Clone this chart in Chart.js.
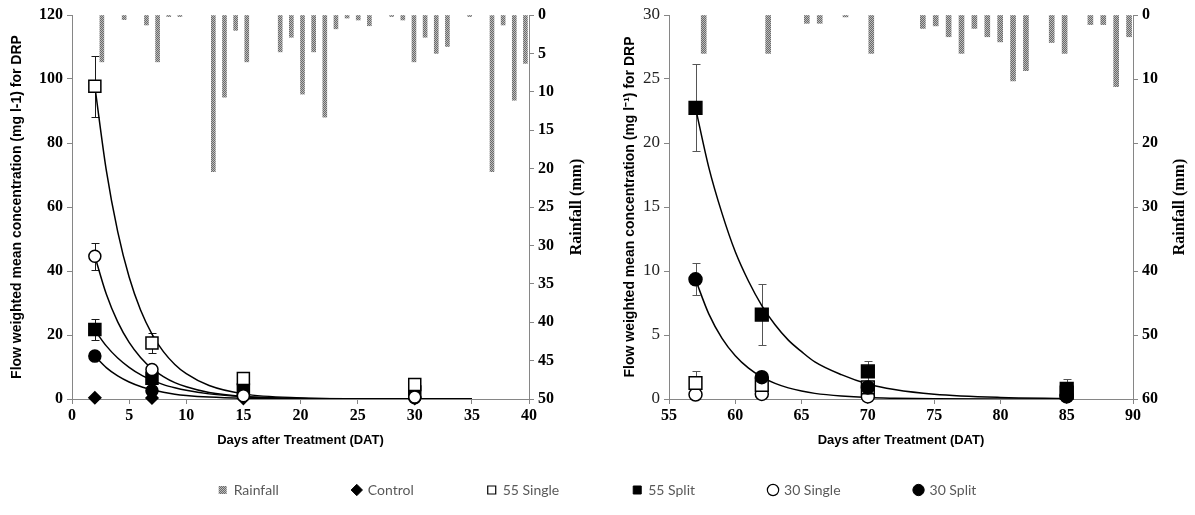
<!DOCTYPE html>
<html>
<head>
<meta charset="utf-8">
<script src="https://cdn.jsdelivr.net/npm/chart.js@4.4.1/dist/chart.umd.min.js"></script>
<style>
  html, body { margin: 0; padding: 0; background: #fff; overflow: hidden; }
  #wrap { position: relative; width: 1195px; height: 515px; overflow: hidden; }
  #wrap canvas { position: absolute; }
  #left { left: 0; top: 0; }
  #right { left: 597px; top: 0; }
  #legend { left: 0; top: 409px; }
</style>
</head>
<body>
<div id="wrap">
  <canvas id="left" width="598" height="460"></canvas>
  <canvas id="right" width="598" height="460"></canvas>
  <canvas id="legend" width="1195" height="220"></canvas>
</div>
<script>
// ---- left panel (0-40 DAT) ----
const daysA = [2, 7, 15, 30];
const controlA = [0.4, 0.3, 0.2, 0.2];
const single55A = [97.7, 17.5, 6.4, 4.5];
const single55ErrA = [9.6, 3.1, 1.5, 0.8];
const split55A = [21.7, 6.5, 2.8, 2.2];
const split55ErrA = [3.4, 1.0, 0.8, 0.6];
const single30A = [44.6, 9.2, 1.0, 0.6];
const single30ErrA = [4.3, 1.0, 0.3, 0.2];
const split30A = [13.4, 2.6, 1.2, 0.4];
const split30ErrA = [0.8, 0.5, 0.3, 0.1];

// fitted decay curves
const curveDaysA = [2, 3, 4, 5, 6, 7, 8, 9, 10, 12, 15, 20, 25, 30, 35];
const fit55SingleA = [97.7, 71.5, 52.3, 38.1, 27.8, 20.3, 14.8, 10.8, 7.9, 4.2, 1.6, 0.34, 0.07, 0.01, 0];
const fit30SingleA = [44.6, 32.8, 24.1, 17.7, 13.0, 9.5, 7.0, 5.1, 3.8, 2.0, 0.8, 0.17, 0.04, 0.01, 0];
const fit55SplitA = [21.5, 16.6, 12.8, 9.9, 7.6, 5.9, 4.5, 3.5, 2.7, 1.6, 0.73, 0.2, 0.05, 0.01, 0];
const fit30SplitA = [13.4, 9.8, 7.2, 5.3, 3.9, 2.9, 2.1, 1.5, 1.1, 0.6, 0.24, 0.05, 0.01, 0, 0];

const rainDaysA = [2, 4, 6, 7, 8, 9, 12, 13, 14, 15, 18, 19, 20, 21, 22, 23, 24, 25, 26, 28, 29, 30, 31, 32, 33, 35, 37, 38, 39, 40];
const rainMmA = [6.1, 0.6, 1.3, 6.1, 0.2, 0.2, 20.4, 10.7, 2.0, 6.1, 4.8, 2.9, 10.3, 4.8, 13.3, 1.8, 0.4, 0.65, 1.4, 0.2, 0.65, 6.1, 2.9, 5.0, 4.1, 0.2, 20.4, 1.3, 11.1, 6.3];

// ---- right panel (55-90 DAT) ----
const daysB = [57, 62, 70, 85];
const single55B = [1.25, 1.1, 0.9, 0.5];
const single55ErrB = [0.95, 0.6, 0.3, 0.2];
const split55B = [22.75, 6.6, 2.15, 0.8];
const split55ErrB = [3.4, 2.4, 0.8, 0.8];
const single30B = [0.35, 0.4, 0.2, 0.25];
const single30ErrB = [0, 0, 0, 0];
const split30B = [9.35, 1.7, 0.9, 0.2];
const split30ErrB = [1.25, 0.3, 0.2, 0.1];

const curveDaysB = [57, 58, 59, 60, 61, 62, 63, 64, 65, 66, 68, 70, 72, 75, 80, 85];
const fit55SplitB = [22.75, 18.1, 14.5, 11.5, 9.2, 7.3, 5.8, 4.6, 3.7, 2.9, 1.9, 1.17, 0.74, 0.37, 0.12, 0.04];
const fit30SplitB = [9.33, 6.65, 4.74, 3.38, 2.41, 1.72, 1.22, 0.87, 0.62, 0.44, 0.23, 0.11, 0.06, 0.02, 0, 0];

const rainDaysB = [57, 62, 65, 66, 68, 70, 74, 75, 76, 77, 78, 79, 80, 81, 82, 84, 85, 87, 88, 89, 90];
const rainMmB = [6.0, 6.0, 1.3, 1.3, 0.3, 6.0, 2.1, 1.7, 3.4, 6.0, 2.1, 3.4, 4.2, 10.3, 8.7, 4.3, 6.0, 1.5, 1.5, 11.2, 3.4];

const legendNames = ['Rainfall', 'Control', '55 Single', '55 Split', '30 Single', '30 Split'];

const SERIF = "'Liberation Serif', 'Times New Roman', serif";
const SANS = "'Liberation Sans', Arial, sans-serif";
const AXIS_GREY = '#868686';

function rainPattern() {
  const c = document.createElement('canvas');
  c.width = 2; c.height = 2;
  const g = c.getContext('2d');
  g.fillStyle = '#bcbcbc';
  g.fillRect(0, 0, 2, 2);
  g.fillStyle = '#6a6a6a';
  g.fillRect(0, 0, 1, 1);
  g.fillRect(1, 1, 1, 1);
  return g.createPattern(c, 'repeat');
}
const rainFill = rainPattern();

function dayLabels(from, to) {
  const out = [];
  for (let d = from; d <= to; d++) out.push(String(d));
  return out;
}

function rainBars(labels, days, mm) {
  return labels.map(l => {
    const i = days.indexOf(Number(l));
    return i < 0 ? null : mm[i];
  });
}

function pts(xs, ys) {
  return xs.map((d, i) => ({ x: d, y: ys[i] }));
}

function markers(label, xs, ys, style, filled, r) {
  return {
    type: 'line', label, data: pts(xs, ys), showLine: false,
    pointStyle: style, pointRadius: r, pointHoverRadius: r,
    pointBackgroundColor: filled ? '#000' : '#fff', pointBorderColor: '#000',
    pointBorderWidth: 1.5, clip: false, order: 0, xAxisID: 'x', yAxisID: 'y'
  };
}

function curve(xs, ys) {
  return {
    type: 'line', label: 'fit', data: pts(xs, ys), borderColor: '#000', borderWidth: 1.5,
    pointRadius: 0, cubicInterpolationMode: 'monotone', fill: false, order: 1,
    xAxisID: 'x', yAxisID: 'y'
  };
}

function errorBars(series, color) {
  return {
    id: 'errorBars',
    beforeDatasetsDraw(chart) {
      const { ctx, scales: { x, y } } = chart;
      ctx.save();
      ctx.strokeStyle = color;
      ctx.lineWidth = 1;
      series.forEach(s => {
        s.y.forEach((v, i) => {
          const e = s.err[i];
          if (!e) return;
          const px = Math.round(x.getPixelForValue(s.x[i])) + 0.5;
          const top = Math.round(y.getPixelForValue(v + e)) + 0.5;
          const bot = Math.round(y.getPixelForValue(Math.max(v - e, 0))) + 0.5;
          ctx.beginPath();
          ctx.moveTo(px, top); ctx.lineTo(px, bot);
          ctx.moveTo(px - 4, top); ctx.lineTo(px + 4, top);
          ctx.moveTo(px - 4, bot); ctx.lineTo(px + 4, bot);
          ctx.stroke();
        });
      });
      ctx.restore();
    }
  };
}

// right axis title reads bottom-to-top like the left one
const rainTitle = {
  id: 'rainTitle',
  afterDraw(chart, args, opts) {
    const s = chart.scales.yr;
    const ctx = chart.ctx;
    ctx.save();
    ctx.translate(s.right - opts.offset, (s.top + s.bottom) / 2);
    ctx.rotate(-Math.PI / 2);
    ctx.textAlign = 'center';
    ctx.textBaseline = 'middle';
    ctx.fillStyle = '#000';
    ctx.font = 'bold 16px ' + SERIF;
    ctx.fillText(opts.text, 0, 0);
    ctx.restore();
  }
};

function axisGrid() {
  return { display: true, drawOnChartArea: false, drawTicks: true, tickLength: 5, color: AXIS_GREY };
}

function makePanel(canvasId, cfg) {
  const labels = dayLabels(cfg.xMin, cfg.xMax);
  return new Chart(document.getElementById(canvasId), {
    type: 'line',
    data: {
      datasets: [
        ...cfg.markerSets,
        ...cfg.curves,
        {
          type: 'bar', label: 'Rainfall', data: rainBars(labels, cfg.rainDays, cfg.rainMm),
          backgroundColor: rainFill, borderWidth: 0, barThickness: cfg.barW,
          xAxisID: 'xr', yAxisID: 'yr', order: 2
        }
      ]
    },
    options: {
      responsive: false,
      animation: false,
      layout: { padding: { top: 15, left: 0, right: 0, bottom: 0 } },
      plugins: {
        legend: { display: false },
        tooltip: { enabled: false },
        rainTitle: { text: 'Rainfall (mm)', offset: cfg.rainTitleOffset }
      },
      scales: {
        x: {
          type: 'linear', position: 'bottom', min: cfg.xMin, max: cfg.xMax,
          grid: axisGrid(), border: { color: AXIS_GREY },
          ticks: { stepSize: 5, autoSkip: false, maxRotation: 0, padding: 2, color: '#000',
                   font: { family: SERIF, size: 16, weight: 'bold' } },
          title: { display: true, text: 'Days after Treatment (DAT)', color: '#000',
                   font: { family: SANS, size: 13, weight: 'bold' }, padding: { top: 4, bottom: 12.2 } },
          afterFit: s => { s.height = 61; }
        },
        xr: { type: 'category', labels, offset: true, display: false, position: 'bottom' },
        y: {
          type: 'linear', position: 'left', min: 0, max: cfg.yMax,
          grid: axisGrid(), border: { color: AXIS_GREY },
          ticks: { stepSize: cfg.yStep, padding: 4, color: cfg.yTickColor,
                   font: { family: SERIF, size: cfg.yTickSize, weight: cfg.yTickWeight } },
          title: { display: true, text: cfg.yTitle, color: '#000',
                   font: { family: SANS, size: 14, weight: 'bold' }, padding: { top: cfg.yTitlePad, bottom: 0 } },
          afterFit: s => { s.width = 72; }
        },
        yr: {
          type: 'linear', position: 'right', min: 0, max: cfg.rainMax, reverse: true,
          grid: axisGrid(), border: { color: AXIS_GREY },
          ticks: { stepSize: cfg.rainStep, padding: 4, color: '#000',
                   font: { family: SERIF, size: 16, weight: 'bold' } },
          afterFit: s => { s.width = cfg.rainAxisW; }
        }
      }
    },
    plugins: [errorBars(cfg.errors, cfg.errColor), rainTitle]
  });
}

makePanel('left', {
  xMin: 0, xMax: 40, yMax: 120, yStep: 20, rainMax: 50, rainStep: 5, barW: 4,
  yTickSize: 16, yTickWeight: 'bold', yTickColor: '#000', yTitlePad: 8.6,
  yTitle: 'Flow weighted mean concentration (mg l-1) for DRP',
  rainAxisW: 69, rainTitleOffset: 21,
  rainDays: rainDaysA, rainMm: rainMmA, errColor: '#1a1a1a',
  markerSets: [
    markers('55 Single', daysA, single55A, 'rect', false, 8.5),
    markers('30 Single', daysA, single30A, 'circle', false, 6),
    markers('55 Split', daysA, split55A, 'rect', true, 8.5),
    markers('30 Split', daysA, split30A, 'circle', true, 6),
    markers('Control', daysA, controlA, 'rectRot', true, 6)
  ],
  curves: [
    curve(curveDaysA, fit55SingleA),
    curve(curveDaysA, fit30SingleA),
    curve(curveDaysA, fit55SplitA),
    curve(curveDaysA, fit30SplitA)
  ],
  errors: [
    { x: daysA, y: single55A, err: single55ErrA },
    { x: daysA, y: single30A, err: single30ErrA },
    { x: daysA, y: split55A, err: split55ErrA },
    { x: daysA, y: split30A, err: split30ErrA }
  ]
});

makePanel('right', {
  xMin: 55, xMax: 90, yMax: 30, yStep: 5, rainMax: 60, rainStep: 10, barW: 5,
  yTickSize: 17, yTickWeight: 'normal', yTickColor: '#222', yTitlePad: 24.6,
  yTitle: 'Flow weighted mean concentration (mg l\u207B\u00B9) for DRP',
  rainAxisW: 62, rainTitleOffset: 15,
  rainDays: rainDaysB, rainMm: rainMmB, errColor: '#555',
  markerSets: [
    markers('55 Split', daysB, split55B, 'rect', true, 9),
    markers('30 Split', daysB, split30B, 'circle', true, 6.5),
    markers('55 Single', daysB, single55B, 'rect', false, 9),
    markers('30 Single', daysB, single30B, 'circle', false, 6.5)
  ],
  curves: [
    curve(curveDaysB, fit55SplitB),
    curve(curveDaysB, fit30SplitB)
  ],
  errors: [
    { x: daysB, y: single55B, err: single55ErrB },
    { x: daysB, y: single30B, err: single30ErrB },
    { x: daysB, y: split55B, err: split55ErrB },
    { x: daysB, y: split30B, err: split30ErrB }
  ]
});

// shared legend under both panels
const legendStyles = [
  { style: 'rect', fill: rainFill, border: 0 },
  { style: 'rectRot', fill: '#000', border: 1 },
  { style: 'rect', fill: '#fff', border: 1.2 },
  { style: 'rect', fill: '#000', border: 1 },
  { style: 'circle', fill: '#fff', border: 1.2 },
  { style: 'circle', fill: '#000', border: 1 }
];

new Chart(document.getElementById('legend'), {
  type: 'line',
  data: {
    datasets: legendNames.map((name, i) => ({
      label: name, data: [],
      pointStyle: legendStyles[i].style,
      pointBackgroundColor: legendStyles[i].fill,
      backgroundColor: legendStyles[i].fill,
      pointBorderColor: '#000', borderColor: '#000',
      pointBorderWidth: legendStyles[i].border
    }))
  },
  options: {
    responsive: false,
    animation: false,
    layout: { padding: 0 },
    plugins: {
      tooltip: { enabled: false },
      legend: {
        position: 'top',
        labels: {
          usePointStyle: true, boxWidth: 8, boxHeight: 8, padding: 74, color: '#595959',
          font: { family: "Lato, 'Open Sans', sans-serif", size: 14 }
        }
      }
    },
    scales: { x: { display: false }, y: { display: false } }
  }
});
</script>
</body>
</html>
